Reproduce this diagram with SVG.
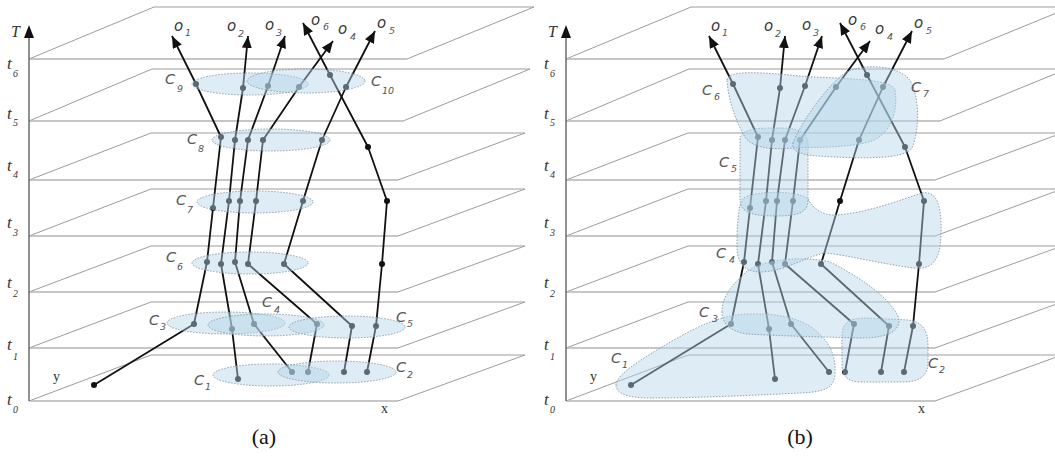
<svg xmlns="http://www.w3.org/2000/svg" xmlns:xlink="http://www.w3.org/1999/xlink" width="1055" height="456" viewBox="0 0 1055 456">
<defs>
<style>
.pl{stroke:#9c9c9c;stroke-width:1;fill:none}
.pf{stroke:#b4b4b4;stroke-width:1.7;fill:none}
.ax{stroke:#555;stroke-width:1.3;fill:none}
.tr{stroke:#111;stroke-width:1.8;fill:none;stroke-linejoin:round}
.nd{fill:#111}
.cl{fill:#b4d5e9;fill-opacity:0.45;stroke:#8898a3;stroke-width:0.9;stroke-dasharray:1.5 1.5}
.lt{font-family:"Liberation Serif",serif;font-style:italic;fill:#333;font-size:17px}
.lT{font-family:"Liberation Serif",serif;font-style:italic;fill:#333;font-size:16px}
.ls{font-family:"Liberation Serif",serif;font-style:italic;fill:#333;font-size:10px}
.lc{font-family:"DejaVu Sans",sans-serif;font-style:italic;fill:#555;font-size:14.5px}
.lcs{font-family:"DejaVu Sans",sans-serif;font-style:italic;fill:#555;font-size:9.5px}
.lo{font-family:"DejaVu Sans",sans-serif;font-style:italic;fill:#333;font-size:15px}
.xy{font-family:"Liberation Serif",serif;fill:#333;font-size:14px}
.cap{font-family:"Liberation Serif",serif;fill:#111;font-size:22px;text-anchor:middle}
</style>
<marker id="ah" markerUnits="userSpaceOnUse" markerWidth="13" markerHeight="10" refX="12" refY="5" orient="auto">
<path d="M0,0 L12,5 L0,10 z" fill="#111"/>
</marker>
<g id="planes">
<path class="pl" d="M29,59 L154,7 H534 L407,59"/>
<path class="pl" d="M29,121 L152,69 H530 L403,121"/>
<path class="pl" d="M29,180 L151,133 H525 L398,180"/>
<path class="pl" d="M29,236 L151,189 H525 L398,236"/>
<path class="pl" d="M29,292 L151,246 H525 L398,292"/>
<path class="pl" d="M29,348 L151,302 H525 L398,348"/>
<path class="pl" d="M29,401 L151,355 H525 L398,401"/>
<path class="pf" d="M29,59 H407 M29,121 H403 M29,180 H398 M29,236 H398 M29,292 H398 M29,348 H398 M29,401 H398"/>
<path class="ax" d="M29,401 V36"/>
<path d="M29,25 L34,38 L24,38 z" fill="#111"/>
<text class="lT" x="11" y="37">T</text>
<text class="lt" x="7" y="69">t</text><text class="ls" x="13" y="77">6</text>
<text class="lt" x="7" y="119">t</text><text class="ls" x="13" y="126">5</text>
<text class="lt" x="7" y="171">t</text><text class="ls" x="13" y="178">4</text>
<text class="lt" x="7" y="228">t</text><text class="ls" x="13" y="236">3</text>
<text class="lt" x="7" y="288">t</text><text class="ls" x="13" y="297">2</text>
<text class="lt" x="7" y="350">t</text><text class="ls" x="13" y="360">1</text>
<text class="lt" x="7" y="405">t</text><text class="ls" x="13" y="413">0</text>
<text class="xy" x="53" y="381">y</text>
<text class="xy" x="381" y="413">x</text>
</g>
<g id="tracks">
<path class="tr" marker-end="url(#ah)" d="M94,385 L194,324 L207,262 L213,208 L221,137 L196,84 L172,36"/>
<path class="tr" marker-end="url(#ah)" d="M238,379 L232,329 L221,264 L229,201 L235,140 L243,88 L248,36"/>
<path class="tr" marker-end="url(#ah)" d="M292,372 L254,324 L235,262 L240,201 L248,140 L268,86 L285,36"/>
<path class="tr" marker-end="url(#ah)" d="M308,372 L317,324 L248,264 L256,201 L263,140 L299,87 L333,41"/>
<path class="tr" marker-end="url(#ah)" d="M344,372 L352,326 L284,264 L303,201 L322,140 L346,87 L375,31"/>
<path class="tr" marker-end="url(#ah)" d="M367,372 L376,326 L382,264 L387,201 L368,147 L330,75 L303,23"/>
<g class="nd">
<circle cx="94" cy="385" r="3"/><circle cx="194" cy="324" r="3"/><circle cx="207" cy="262" r="3"/><circle cx="213" cy="208" r="3"/><circle cx="221" cy="137" r="3"/><circle cx="196" cy="84" r="3"/>
<circle cx="238" cy="379" r="3"/><circle cx="232" cy="329" r="3"/><circle cx="221" cy="264" r="3"/><circle cx="229" cy="201" r="3"/><circle cx="235" cy="140" r="3"/><circle cx="243" cy="88" r="3"/>
<circle cx="292" cy="372" r="3"/><circle cx="254" cy="324" r="3"/><circle cx="235" cy="262" r="3"/><circle cx="240" cy="201" r="3"/><circle cx="248" cy="140" r="3"/><circle cx="268" cy="86" r="3"/>
<circle cx="308" cy="372" r="3"/><circle cx="317" cy="324" r="3"/><circle cx="248" cy="264" r="3"/><circle cx="256" cy="201" r="3"/><circle cx="263" cy="140" r="3"/><circle cx="299" cy="87" r="3"/>
<circle cx="344" cy="372" r="3"/><circle cx="352" cy="326" r="3"/><circle cx="284" cy="264" r="3"/><circle cx="303" cy="201" r="3"/><circle cx="322" cy="140" r="3"/><circle cx="346" cy="87" r="3"/>
<circle cx="367" cy="372" r="3"/><circle cx="376" cy="326" r="3"/><circle cx="382" cy="264" r="3"/><circle cx="387" cy="201" r="3"/><circle cx="368" cy="147" r="3"/><circle cx="330" cy="75" r="3"/>
</g>
</g>
<g id="olabels">
<text class="lo" x="174" y="31">o</text><text class="lcs" x="185" y="36">1</text>
<text class="lo" x="227" y="31">o</text><text class="lcs" x="238" y="37">2</text>
<text class="lo" x="265" y="30">o</text><text class="lcs" x="276" y="36">3</text>
<text class="lo" x="311" y="25">o</text><text class="lcs" x="323" y="30">6</text>
<text class="lo" x="338" y="34">o</text><text class="lcs" x="350" y="40">4</text>
<text class="lo" x="377" y="28">o</text><text class="lcs" x="389" y="34">5</text>
</g>
</defs>

<g id="panel-a">
<use href="#planes"/>
<g id="connectors-a"><use href="#tracks"/></g>
<g id="a-C1"><ellipse class="cl" cx="271" cy="375" rx="58" ry="11"/><text class="lc" x="194" y="385">C</text><text class="lcs" x="205" y="390">1</text></g>
<g id="a-C2"><ellipse class="cl" cx="337" cy="372" rx="59" ry="11"/><text class="lc" x="396" y="372">C</text><text class="lcs" x="407" y="378">2</text></g>
<g id="a-C3"><ellipse class="cl" cx="226" cy="323" rx="59" ry="11"/><text class="lc" x="149" y="325">C</text><text class="lcs" x="160" y="330">3</text></g>
<g id="a-C4"><ellipse class="cl" cx="266" cy="325" rx="58" ry="11"/><text class="lc" x="262" y="307">C</text><text class="lcs" x="274" y="313">4</text></g>
<g id="a-C5"><ellipse class="cl" cx="347" cy="327" rx="58" ry="11"/><text class="lc" x="396" y="322">C</text><text class="lcs" x="407" y="327">5</text></g>
<g id="a-C6"><ellipse class="cl" cx="250" cy="263" rx="58" ry="11"/><text class="lc" x="166" y="262">C</text><text class="lcs" x="177" y="270">6</text></g>
<g id="a-C7"><ellipse class="cl" cx="255" cy="202" rx="58" ry="11"/><text class="lc" x="176" y="205">C</text><text class="lcs" x="187" y="213">7</text></g>
<g id="a-C8"><ellipse class="cl" cx="271" cy="140" rx="59" ry="11"/><text class="lc" x="187" y="144">C</text><text class="lcs" x="198" y="152">8</text></g>
<g id="a-C9"><ellipse class="cl" cx="250" cy="84" rx="58" ry="11"/><text class="lc" x="165" y="84">C</text><text class="lcs" x="177" y="92">9</text></g>
<g id="a-C10"><ellipse class="cl" cx="306" cy="81" rx="59" ry="12"/><text class="lc" x="371" y="86">C</text><text class="lcs" x="382" y="94">10</text></g>
<use href="#olabels"/>
<text class="cap" x="264" y="444">(a)</text>
</g>

<g id="panel-b">
<use href="#planes" x="537"/>
<g id="connectors-b"><use href="#tracks" x="537"/></g>
<g id="b-C1"><path class="cl" d="M616,385 C616,374 645,357 672,341 C700,325 722,315 748,314 C778,313 800,318 815,330 C830,342 836,356 835,374 C834,388 825,392 800,393 C760,395 700,398 650,398 C626,398 616,393 616,385 Z"/><text class="lc" x="611" y="363">C</text><text class="lcs" x="622" y="368">1</text></g>
<g id="b-C2"><path class="cl" d="M842,336 C842,322 850,318 866,318 L908,320 C924,322 928,332 928,346 L928,362 C928,376 920,382 902,382 L862,382 C846,382 842,375 842,364 Z"/><text class="lc" x="928" y="368">C</text><text class="lcs" x="939" y="373">2</text></g>
<g id="b-C3"><path class="cl" d="M722,312 C722,296 733,284 745,273 C760,260 800,255 830,262 C858,276 888,296 898,316 C903,330 888,338 862,338 C820,337 782,336 748,334 C731,332 722,324 722,312 Z"/><text class="lc" x="699" y="317">C</text><text class="lcs" x="712" y="322">3</text></g>
<g id="b-C4"><path class="cl" d="M742,200 C746,191 798,189 808,199 C814,210 824,216 838,215 C870,212 900,200 922,193 C938,190 942,208 941,236 C940,258 934,270 914,268 C882,264 852,256 826,253 C805,256 790,270 762,272 C745,272 737,265 737,246 C737,226 738,208 742,200 Z"/><text class="lc" x="716" y="258">C</text><text class="lcs" x="729" y="263">4</text></g>
<g id="b-C5"><path class="cl" d="M740,140 C740,128 760,128 776,128 C796,128 808,130 808,145 L808,200 C808,212 800,216 775,216 C752,216 740,212 740,200 Z"/><text class="lc" x="719" y="167">C</text><text class="lcs" x="731" y="172">5</text></g>
<g id="b-C6"><path class="cl" d="M727,80 C727,70 760,72 800,76 C840,79 892,78 895,90 C898,110 892,128 878,138 C862,148 820,147 793,148 C772,150 752,148 745,137 C737,124 728,100 727,80 Z"/><text class="lc" x="702" y="95">C</text><text class="lcs" x="714" y="100">6</text></g>
<g id="b-C7"><path class="cl" d="M793,143 C800,125 822,92 842,75 C858,63 894,64 908,78 C920,92 920,130 912,148 C904,160 860,158 835,157 C812,156 790,155 793,143 Z"/><text class="lc" x="911" y="92">C</text><text class="lcs" x="923" y="97">7</text></g>
<use href="#olabels" x="537"/>
<text class="cap" x="800" y="444">(b)</text>
</g>
</svg>
